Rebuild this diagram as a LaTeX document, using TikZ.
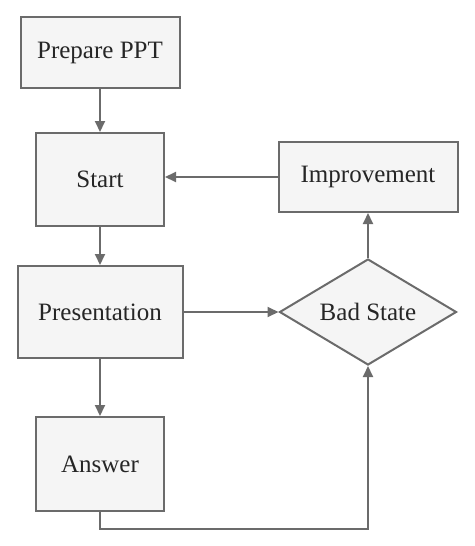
\documentclass[tikz,border=0pt]{standalone}
\usepackage{fontspec}
\setmainfont{Liberation Serif}
\usetikzlibrary{arrows.meta, shapes.geometric}

\definecolor{linegray}{HTML}{6B6B6B}
\definecolor{boxfill}{HTML}{F5F5F5}

\def\Lx{100}
\def\Rx{368}

\begin{document}
\begin{tikzpicture}[x=1pt, y=-1pt, line width=2pt, draw=linegray,
    every node/.style={font=\fontsize{25}{30}\selectfont, text=black!85},
    block/.style={draw=linegray, fill=boxfill, inner sep=0pt},
    decision/.style={diamond, draw=linegray, fill=boxfill, inner sep=0pt, aspect=1.67},
    flow/.style={draw=linegray, -{Triangle[length=11pt, width=10pt]}}]
    \useasboundingbox (0,0) rectangle (474,546);

    \node[block, minimum width=159pt, minimum height=71pt] (prep) at (\Lx,52.5) {Prepare PPT};
    \node[block, minimum width=128pt, minimum height=93pt] (start) at (\Lx,179.5) {Start};
    \node[block, minimum width=165pt, minimum height=92pt] (pres) at (\Lx,312) {Presentation};
    \node[block, minimum width=128pt, minimum height=94pt] (ans) at (\Lx,464) {Answer};
    \node[block, minimum width=179pt, minimum height=70pt] (impr) at (\Rx,177) {Improvement};
    \node[decision, minimum width=177pt, minimum height=106pt] (bad) at (\Rx,312) {Bad State};

    \draw[flow] (prep.south) -- (start.north);
    \draw[flow] (start.south) -- (pres.north);
    \draw[flow] (pres.south) -- (ans.north);
    \draw[flow] (pres.east) -- (bad.west);
    \draw[flow] (bad.north) -- (impr.south);
    \draw[flow] (impr.west) -- (impr.west -| start.east);
    \draw[flow] (ans.south) -- ++(0,17) -| (bad.south);
\end{tikzpicture}
\end{document}
